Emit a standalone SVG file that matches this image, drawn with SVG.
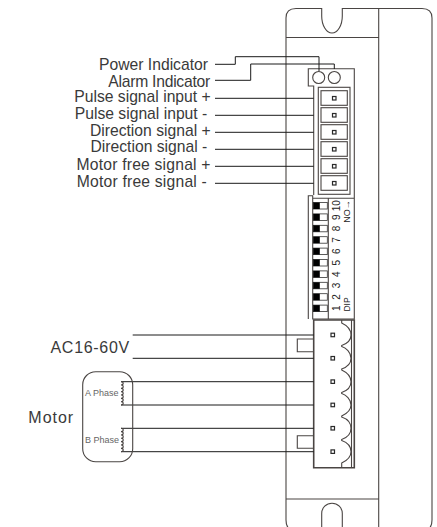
<svg xmlns="http://www.w3.org/2000/svg" width="437" height="527" viewBox="0 0 437 527">
<style>
.g{fill:none;stroke:#4a4543;stroke-width:1.1}
.k{fill:none;stroke:#1a1a1a;stroke-width:1}
.hv{fill:none;stroke:#4a4543;stroke-width:1.6}
.l{font-family:"Liberation Sans",Arial,sans-serif;font-size:15.7px;fill:#3a3a3a;text-anchor:end}
.w{font-family:"Liberation Sans",Arial,sans-serif;font-size:16px;fill:#3a3a3a;letter-spacing:.7px}
.s{font-family:"Liberation Sans",Arial,sans-serif;font-size:9px;fill:#666}
.n{font-family:"Liberation Sans",Arial,sans-serif;font-size:10px;fill:#222;text-anchor:middle}
.b{fill:#fff;stroke:#2a2a2a;stroke-width:1.2}
</style>
<g id="case">
<path class="g" d="M286 520V18Q286 8.500 296 8.500H321.700V16A10.300 17 0 0 0 342.300 16V8.500H422Q432 8.500 432 18V520Q432 530 424 530M286 520Q286 530 294 530"/>
<path class="g" d="M378.700 8.500V527M286 37.500H378.700M286 499H378.700"/>
<path class="g" d="M321.700 527V513.500A10.300 10.300 0 0 1 342.300 513.500V527"/>
</g>
<g id="signal-connector">
<path class="g" d="M313.700 195V86H308.300V68.700H354.300V195"/>
<circle class="g" cx="318.700" cy="77.500" r="6"/>
<circle class="g" cx="334.300" cy="77.500" r="6"/>
<rect class="g" x="318.300" y="87.300" width="31.700" height="107"/>
<g class="g">
<rect x="321" y="90.700" width="26.300" height="14.600"/>
<rect x="321" y="107.700" width="26.300" height="14.600"/>
<rect x="321" y="124.700" width="26.300" height="14.600"/>
<rect x="321" y="141.700" width="26.300" height="14.600"/>
<rect x="321" y="158.700" width="26.300" height="14.600"/>
<rect x="321" y="175.700" width="26.300" height="14.600"/>
</g>
<g class="b">
<rect x="332.500" y="96.500" width="3.500" height="3.500"/>
<rect x="332.500" y="113.500" width="3.500" height="3.500"/>
<rect x="332.500" y="130.500" width="3.500" height="3.500"/>
<rect x="332.500" y="147.500" width="3.500" height="3.500"/>
<rect x="332.500" y="164.500" width="3.500" height="3.500"/>
<rect x="332.500" y="181.500" width="3.500" height="3.500"/>
</g>
</g>
<g id="dip-switch">
<path class="g" d="M354.300 195V319H312.700V198.300H354.300M312.700 198.300V195.700H308.300V319M328.300 198.300V319"/>
<g id="switches" fill="#fff" stroke="#333" stroke-width=".8">
<rect x="313.300" y="202.500" width="14" height="6.500"/><rect x="313.300" y="213.900" width="14" height="6.500"/><rect x="313.300" y="225.300" width="14" height="6.500"/><rect x="313.300" y="236.700" width="14" height="6.500"/><rect x="313.300" y="248.100" width="14" height="6.500"/><rect x="313.300" y="259.500" width="14" height="6.500"/><rect x="313.300" y="270.900" width="14" height="6.500"/><rect x="313.300" y="282.300" width="14" height="6.500"/><rect x="313.300" y="293.700" width="14" height="6.500"/><rect x="313.300" y="305.100" width="14" height="6.500"/>
</g>
<g fill="#000">
<rect x="313.300" y="202.500" width="6.500" height="6.500"/><rect x="313.300" y="213.900" width="6.500" height="6.500"/><rect x="313.300" y="225.300" width="6.500" height="6.500"/><rect x="313.300" y="236.700" width="6.500" height="6.500"/><rect x="313.300" y="248.100" width="6.500" height="6.500"/><rect x="313.300" y="259.500" width="6.500" height="6.500"/><rect x="313.300" y="270.900" width="6.500" height="6.500"/><rect x="313.300" y="282.300" width="6.500" height="6.500"/><rect x="313.300" y="293.700" width="6.500" height="6.500"/><rect x="313.300" y="305.100" width="6.500" height="6.500"/>
</g>
<g class="n">
<text transform="translate(339.500 205.700) rotate(-90)">10</text>
<text transform="translate(339.500 217.100) rotate(-90)">9</text>
<text transform="translate(339.500 228.500) rotate(-90)">8</text>
<text transform="translate(339.500 239.900) rotate(-90)">7</text>
<text transform="translate(339.500 251.300) rotate(-90)">6</text>
<text transform="translate(339.500 262.700) rotate(-90)">5</text>
<text transform="translate(339.500 274.100) rotate(-90)">4</text>
<text transform="translate(339.500 285.500) rotate(-90)">3</text>
<text transform="translate(339.500 296.900) rotate(-90)">2</text>
<text transform="translate(339.500 308.300) rotate(-90)">1</text>
<text transform="translate(350 304.500) rotate(-90)" font-size="8.500">DIP</text>
<text transform="translate(350 211.500) rotate(-90)" font-size="9">NO→</text>
</g>
</g>
<g id="power-connector">
<path class="hv" d="M313.700 320H354.300V467.700H313.700Z"/>
<path class="g" d="M351.500 320V467.700"/>
<path class="g" d="M341.700 320V323C346 325 351 329 351 335C351 341 346 344 341.700 345.500V346.500C346 348 351 352 351 358.300C351 364.500 346 367.500 341.700 369V370C346 372 351 375.500 351 381.700C351 388 346 391 341.700 392.500V393.500C346 395 351 399 351 405C351 411 346 414 341.700 416V417C346 418.500 351 422 351 428.300C351 434.500 346 438 341.700 439.500V440.500C346 442 351 445.500 351 451.700C351 458 346 461 341.700 463V467.700"/>
<path class="g" d="M313.700 339H297.300V351.700H313.700M313.700 435.700H297.300V448.300H313.700"/>
<g class="b">
<rect x="331" y="333.200" width="3.500" height="3.500"/>
<rect x="331" y="356.500" width="3.500" height="3.500"/>
<rect x="331" y="379.900" width="3.500" height="3.500"/>
<rect x="331" y="403.200" width="3.500" height="3.500"/>
<rect x="331" y="426.500" width="3.500" height="3.500"/>
<rect x="331" y="449.900" width="3.500" height="3.500"/>
</g>
</g>
<g id="connectors">
<path class="k" d="M215 64.300H235.300V56.700H319V71"/>
<path class="k" d="M215 80.300H250.700V64H334.300V69"/>
<path class="k" d="M215 98.300H313.700M215 115.300H313.700M215 132.300H313.700M215 149.300H313.700M215 166.300H313.700M215 183.300H313.700"/>
<path class="k" d="M132.700 335H313.700M132.700 358.300H313.700"/>
<path class="k" d="M121 381.700H313.700M121 405H313.700M121 428.300H313.700M121 451.700H313.700"/>
</g>
<g id="labels">
<text class="l" x="208" y="70">Power Indicator</text>
<text class="l" x="210" y="86.700" style="letter-spacing:-.25px">Alarm Indicator</text>
<text class="l" x="210.700" y="102.300">Pulse signal input +</text>
<text class="l" x="207.300" y="119">Pulse signal input -</text>
<text class="l" x="210.700" y="135.700">Direction signal +</text>
<text class="l" x="207.300" y="152.300">Direction signal -</text>
<text class="l" x="210.700" y="170" style="letter-spacing:.2px">Motor free signal +</text>
<text class="l" x="207" y="187" style="letter-spacing:.2px">Motor free signal -</text>
<text class="w" x="50.500" y="352.700">AC16-60V</text>
<text class="w" x="28.300" y="422.700" style="letter-spacing:1px">Motor</text>
</g>
<g id="motor">
<rect class="g" x="82.700" y="371.700" width="50" height="90" rx="13"/>
<path class="g" d="M121 381.700a2.200 1.660 0 0 1 0 3.330a2.200 1.660 0 0 1 0 3.330a2.200 1.660 0 0 1 0 3.330a2.200 1.660 0 0 1 0 3.330a2.200 1.660 0 0 1 0 3.330a2.200 1.660 0 0 1 0 3.330a2.200 1.660 0 0 1 0 3.330"/>
<path class="g" d="M121 428.300a2.200 1.660 0 0 1 0 3.340a2.200 1.660 0 0 1 0 3.340a2.200 1.660 0 0 1 0 3.340a2.200 1.660 0 0 1 0 3.340a2.200 1.660 0 0 1 0 3.340a2.200 1.660 0 0 1 0 3.340a2.200 1.660 0 0 1 0 3.340"/>
<text class="s" x="85" y="396">A Phase</text>
<text class="s" x="85" y="443">B Phase</text>
</g>
</svg>
